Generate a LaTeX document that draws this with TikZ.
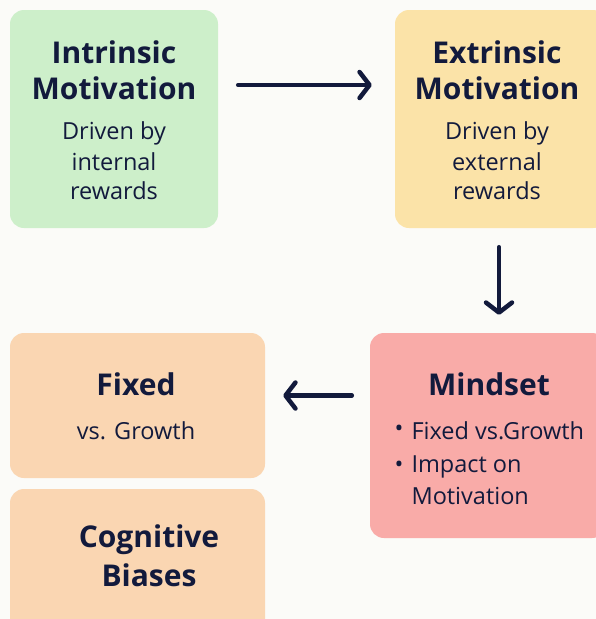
\documentclass[tikz,border=0pt]{standalone}
\usepackage{fontspec}
\setmainfont{Open Sans}
\usetikzlibrary{arrows.meta,positioning}
\definecolor{ink}{HTML}{121A3C}
\definecolor{paper}{HTML}{FBFBF8}
\definecolor{intrfill}{HTML}{CDEFCA}
\definecolor{extrfill}{HTML}{FBE3A8}
\definecolor{mindfill}{HTML}{F9ABA8}
\definecolor{peach}{HTML}{FAD6B2}
\begin{document}
\begin{tikzpicture}[x=1pt, y=-1pt,
  box/.style={rounded corners=14pt, inner sep=0pt},
  ttl/.style={font=\bfseries\fontsize{30}{34}\selectfont, text=ink},
  txt/.style={font=\fontsize{23.5}{29}\selectfont, text=ink},
  flow/.style={line width=4.5pt, draw=ink, line cap=round,
    -{Straight Barb[length=10pt, width=26pt, round]}}]
\fill[paper] (0,0) rectangle (596,619);
\useasboundingbox (0,0) rectangle (596,619);
% boxes
\node[box, fill=intrfill, minimum width=208pt, minimum height=218pt] (intr) at (114,119) {};
\node[box, fill=extrfill, minimum width=212pt, minimum height=218pt] (extr) at (501,119) {};
\node[box, fill=mindfill, minimum width=236pt, minimum height=205pt] (mind) at (488,435.5) {};
\node[box, fill=peach, minimum width=255pt, minimum height=145pt] (fix) at (137.5,405.5) {};
\node[box, fill=peach, minimum width=255pt, minimum height=150pt] (cog) at (137.5,564) {};
% texts
\node[ttl] (intrA) at (114,52) {Intrinsic};
\node[ttl] (intrB) at (114,88) {Motivation};
\node[ttl] (extrA) at (497,52) {Extrinsic};
\node[ttl] (extrB) at (497,88) {Motivation};
\foreach \x/\w/\n in {114/internal/intr, 497/external/extr} {
  \node[txt] (\n C) at (\x,133) {Driven by};
  \node[txt] (\n D) at (\x,162) {\w};
  \node[txt] (\n E) at (\x,191) {rewards};
}
\node[ttl] (mindA) at (489,384) {Mindset};
\foreach \y/\t [count=\i] in {431/Fixed vs.Growth, 467/Impact on} {
  \node[txt, anchor=west] (bul\i) at (391,\y) {\textbullet};
  \node[txt, anchor=west] (lin\i) at (408,\y) {\t};
}
\node[txt, anchor=west] (lin3) at (408,496) {Motivation};
\node[ttl] (fixA) at (136,384) {Fixed};
\node[txt] (fixB) at (136,431) {vs. Growth};
\node[ttl] (cogA) at (149,540) {Cognitive};
\node[ttl] (cogB) at (149,575) {Biases};
% arrows
\draw[flow, shorten <=20pt, shorten >=23pt] ([yshift=34pt]intr.east) -- ([yshift=34pt]intr.east -| extr.west);
\draw[flow, shorten <=19pt, shorten >=18pt] ([xshift=-2pt]extr.south) -- ([xshift=-2pt]extr.south |- mind.north);
\draw[flow, shorten <=18pt, shorten >=18pt] ([yshift=40pt]mind.west) -- ([yshift=40pt]mind.west -| fix.east);
\end{tikzpicture}
\end{document}
